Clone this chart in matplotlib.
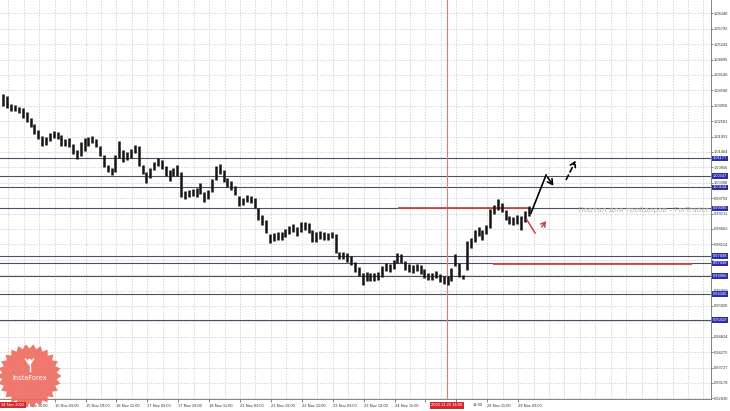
import matplotlib
matplotlib.use('Agg')
import matplotlib.pyplot as plt
import numpy as np
from matplotlib.patches import Polygon, Circle

# ---------------- data ----------------
# 2-hour bars, x = trading-hour index (0 = 14 Nov 2022 00:00)
bar_hours = list(range(0, 274, 2))
highs = [1.0347, 1.0340, 1.0311, 1.0307, 1.0300, 1.0297, 1.0283, 1.0261, 1.0240, 1.0219,
         1.0197, 1.0194, 1.0208, 1.0215, 1.0211, 1.0201, 1.0186, 1.0190, 1.0169, 1.0147,
         1.0176, 1.0190, 1.0194, 1.0197, 1.0186, 1.0162, 1.0130, 1.0094, 1.0083, 1.0130,
         1.0179, 1.0147, 1.0140, 1.0151, 1.0165, 1.0162, 1.0094, 1.0069, 1.0083, 1.0105,
         1.0119, 1.0112, 1.0090, 1.0076, 1.0083, 1.0094, 1.0069, 1.0001, 1.0005, 1.0008,
         1.0012, 1.0030, 0.9998, 1.0005, 1.0044, 1.0090, 1.0097, 1.0076, 1.0048, 1.0037,
         1.0019, 0.9983, 0.9976, 0.9987, 0.9983, 0.9976, 0.9941, 0.9916, 0.9898, 0.9848,
         0.9852, 0.9855, 0.9855, 0.9866, 0.9877, 0.9884, 0.9873, 0.9891, 0.9891, 0.9887,
         0.9862, 0.9855, 0.9859, 0.9855, 0.9852, 0.9855, 0.9848, 0.9784, 0.9784, 0.9781,
         0.9770, 0.9748, 0.9731, 0.9709, 0.9713, 0.9709, 0.9709, 0.9713, 0.9734, 0.9745,
         0.9741, 0.9756, 0.9781, 0.9777, 0.9752, 0.9741, 0.9738, 0.9741, 0.9738, 0.9723,
         0.9709, 0.9709, 0.9716, 0.9706, 0.9698, 0.9698, 0.9727, 0.9777, 0.9745, 0.9702,
         0.9823, 0.9834, 0.9862, 0.9873, 0.9862, 0.9880, 0.9937, 0.9951, 0.9973, 0.9958,
         0.9934, 0.9912, 0.9909, 0.9916, 0.9912, 0.9930, 0.9948]
lows = [1.0304, 1.0297, 1.0286, 1.0286, 1.0279, 1.0261, 1.0247, 1.0229, 1.0204, 1.0186,
        1.0162, 1.0165, 1.0179, 1.0190, 1.0186, 1.0162, 1.0162, 1.0158, 1.0133, 1.0115,
        1.0126, 1.0144, 1.0162, 1.0172, 1.0158, 1.0126, 1.0087, 1.0069, 1.0058, 1.0069,
        1.0119, 1.0105, 1.0112, 1.0119, 1.0137, 1.0090, 1.0062, 1.0030, 1.0048, 1.0076,
        1.0090, 1.0080, 1.0055, 1.0037, 1.0055, 1.0055, 0.9980, 0.9973, 0.9980, 0.9983,
        0.9980, 0.9991, 0.9962, 0.9973, 0.9998, 1.0040, 1.0062, 1.0033, 1.0015, 1.0005,
        0.9987, 0.9948, 0.9951, 0.9962, 0.9958, 0.9941, 0.9898, 0.9880, 0.9852, 0.9816,
        0.9823, 0.9827, 0.9827, 0.9837, 0.9848, 0.9855, 0.9841, 0.9855, 0.9862, 0.9852,
        0.9820, 0.9820, 0.9830, 0.9827, 0.9827, 0.9834, 0.9781, 0.9759, 0.9759, 0.9748,
        0.9738, 0.9713, 0.9698, 0.9667, 0.9681, 0.9681, 0.9681, 0.9684, 0.9695, 0.9716,
        0.9713, 0.9723, 0.9745, 0.9745, 0.9720, 0.9713, 0.9709, 0.9716, 0.9706, 0.9691,
        0.9684, 0.9684, 0.9691, 0.9677, 0.9670, 0.9667, 0.9681, 0.9734, 0.9695, 0.9688,
        0.9720, 0.9798, 0.9820, 0.9841, 0.9827, 0.9848, 0.9870, 0.9919, 0.9934, 0.9926,
        0.9898, 0.9884, 0.9880, 0.9884, 0.9862, 0.9891, 0.9912]

price_ticks = [1.06340, 1.05792, 1.05243, 1.04695, 1.04146, 1.03598, 1.03050, 1.02501,
               1.01953, 1.01404, 1.00856, 1.00308, 0.99759, 0.99211, 0.98662, 0.98114,
               0.97566, 0.97017, 0.96469, 0.95920, 0.95372, 0.94824, 0.94275, 0.93727,
               0.93178, 0.92630]
# price labels that are fully covered by level boxes in the reference
hidden_price_ticks = [0.97566, 0.97017, 0.95372]

time_tick_hours = [11, 27, 43, 59, 75, 91, 107, 123, 139, 155, 171, 187, 203, 219, 235, 251, 267]
time_tick_labels = ["14 Nov 11:00", "15 Nov 03:00", "15 Nov 19:00", "16 Nov 11:00", "17 Nov 03:00",
                    "17 Nov 19:00", "18 Nov 11:00", "21 Nov 03:00", "21 Nov 19:00", "22 Nov 11:00",
                    "23 Nov 03:00", "23 Nov 19:00", "24 Nov 11:00", "", "",
                    "28 Nov 11:00", "29 Nov 03:00"]
partial_label = "19:00"          # visible remainder of "25 Nov 19:00" next to the marker box
partial_label_hour = 243.6
grid_hours = list(range(3, 368, 8))

level_prices = [1.01177, 1.00547, 1.00144, 0.99396, 0.97698, 0.97438, 0.96986, 0.96345, 0.95419]
level_labels = ["1.01177", "1.00547", "1.00144", "0.99396", "0.97698", "0.97438", "0.96986", "0.96345", "0.95419"]

red_level_1 = (204.7, 272.1, 0.99417)
red_level_2 = (254.0, 357.0, 0.97402)
marker_hour = 230
marker_label = "2022.11.25 14:00"
start_label = "14 Nov 2022"

# forecast arrows (hour index, price)
black_path = [(273.7, 0.99230), (281.5, 1.00582), (286.1, 1.00119)]
black_dash = [(291.3, 1.00333), (297.5, 1.01187)]
red_path = [(271.6, 0.98980), (275.8, 0.98517)]
red_arrow = [(278.3, 0.98659), (282.5, 0.99016)]

watermark = "Портал для трейдеров - ForTrader.org"

# ---------------- figure ----------------
W, H = 730, 411
fig = plt.figure(figsize=(W / 100, H / 100), dpi=100)
fig.patch.set_facecolor('white')
ax = fig.add_axes([0, 12 / H, 711 / W, 399 / H])
ax.set_facecolor('white')
ax.set_xlim(-1.3, 366.9)
ax.set_ylim(0.92606, 1.06814)

# grid
for gx in grid_hours:
    ax.axvline(gx, color='#c4c4c4', lw=0.5, ls=(0, (2, 2)), zorder=0)
for gy in price_ticks:
    ax.axhline(gy, color='#c4c4c4', lw=0.5, ls=(0, (2, 2)), zorder=0)

# levels
for lp in level_prices:
    ax.axhline(lp, color='#4e5068', lw=0.8, zorder=1)

# vertical marker
ax.axvline(marker_hour, color='#e07a7a', lw=0.8, zorder=1)

# red lines
ax.hlines(red_level_1[2], red_level_1[0], red_level_1[1], color='#c84848', lw=1.3, zorder=2)
ax.hlines(red_level_2[2], red_level_2[0], red_level_2[1], color='#c84848', lw=1.3, zorder=2)

# bars
xs = np.array(bar_hours) + 0.5
ax.vlines(xs, lows, highs, color='#151515', lw=1.8, zorder=3)

# watermark
ax.text(298.0, 0.99336, watermark, color='#b9b9b9', fontsize=5.3, va='center', ha='left',
        clip_on=True, zorder=1)

# arrows
ax.plot([p[0] for p in black_path[:2]], [p[1] for p in black_path[:2]], color='black', lw=1.2, zorder=4)
ax.annotate('', xy=black_path[2], xytext=black_path[1],
            arrowprops=dict(arrowstyle='->,head_length=0.35,head_width=0.2', color='black', lw=1.2), zorder=4)
ax.annotate('', xy=black_dash[1], xytext=black_dash[0],
            arrowprops=dict(arrowstyle='->,head_length=0.35,head_width=0.2', color='black', lw=1.2,
                            linestyle=(0, (3, 2))), zorder=4)
ax.plot([p[0] for p in red_path], [p[1] for p in red_path], color='#d04040', lw=1.1, zorder=4)
ax.annotate('', xy=red_arrow[1], xytext=red_arrow[0],
            arrowprops=dict(arrowstyle='->,head_length=0.3,head_width=0.18', color='#d04040', lw=1.1), zorder=4)

# axes styling
for s in ['top', 'left']:
    ax.spines[s].set_visible(False)
for s in ['right', 'bottom']:
    ax.spines[s].set_color('#707070')
    ax.spines[s].set_linewidth(0.6)
ax.yaxis.tick_right()
ax.set_yticks(price_ticks)
ax.set_yticklabels(["" if v in hidden_price_ticks else f"{v:.5f}" for v in price_ticks],
                   fontsize=2.9, color='#333333', family='Liberation Sans')
ax.tick_params(axis='y', length=1.5, width=0.5, pad=0.8, colors='#555555', labelcolor='#333333')
ax.set_xticks(time_tick_hours)
ax.set_xticklabels(time_tick_labels, fontsize=2.9, color='#333333', ha='left',
                   family='Liberation Sans')
ax.tick_params(axis='x', length=2, width=0.5, pad=1.5, colors='#555555', labelcolor='#333333')

xtr = ax.get_xaxis_transform()
ax.text(partial_label_hour, -0.016, partial_label, transform=xtr, fontsize=2.9, color='#333333',
        ha='left', va='center', family='Liberation Sans', clip_on=False)

# level boxes on price axis
ytr = ax.get_yaxis_transform()
for lp, lt in zip(level_prices, level_labels):
    ax.text(1.0025, lp, lt, transform=ytr, fontsize=2.9, color='white', ha='left', va='center',
            family='Liberation Sans', clip_on=False, zorder=6,
            bbox=dict(boxstyle='square,pad=0.15', fc='#2a2db0', ec='none'))

# marker box on time axis
ax.text(marker_hour, -0.016, marker_label, transform=xtr, fontsize=3.0, color='white', ha='center',
        va='center', family='Liberation Sans', clip_on=False, zorder=6,
        bbox=dict(boxstyle='square,pad=0.35', fc='#d42a2a', ec='none'))

# overlay for logo and start date label
ov = fig.add_axes([0, 0, 1, 1], zorder=5)
ov.set_xlim(0, W)
ov.set_ylim(H, 0)
ov.axis('off')
ov.patch.set_alpha(0)
cx, cy = 29.5, 376
n = 26
ang = np.linspace(0, 2 * np.pi, 2 * n, endpoint=False)
rad = np.where(np.arange(2 * n) % 2 == 0, 32, 27.5)
star = np.column_stack([cx + rad * np.cos(ang), cy + rad * np.sin(ang)])
ov.add_patch(Polygon(star, closed=True, fc='#ef6b5f', ec='none', alpha=0.9))
ov.add_patch(Circle((cx, cy - 15), 2.2, fc='white', ec='none'))
ov.plot([cx - 4, cx, cx + 4], [cy - 17, cy - 11, cy - 17], color='white', lw=1.0)
ov.plot([cx, cx], [cy - 11, cy - 5], color='white', lw=1.0)
ov.text(cx, cy + 2, 'InstaForex', color='white', fontsize=4.8, ha='center', va='center')
ov.text(1, 405, start_label, color='white', fontsize=3.0, ha='left', va='center',
        family='Liberation Sans',
        bbox=dict(boxstyle='square,pad=0.35', fc='#d42a2a', ec='none'))

fig.savefig('out.png', dpi=100, facecolor='white')
